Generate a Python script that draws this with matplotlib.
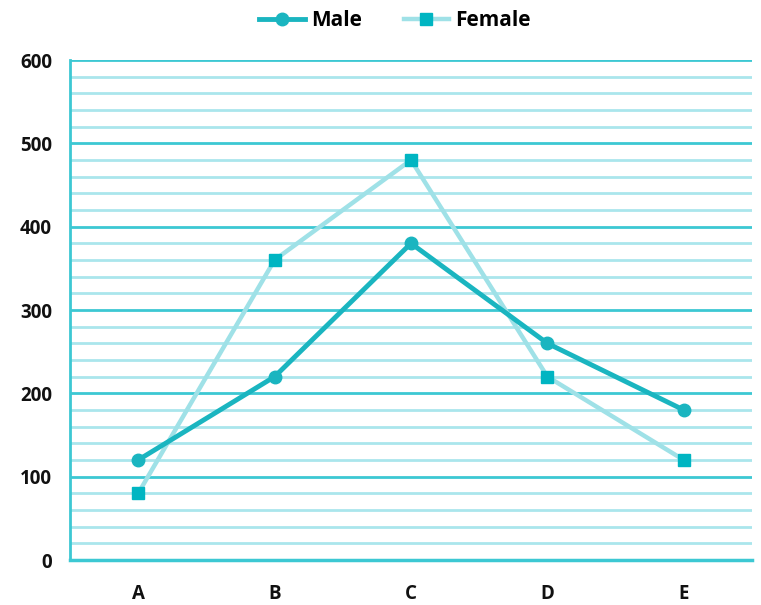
import matplotlib
matplotlib.use("Agg")
import matplotlib.pyplot as plt
from matplotlib.ticker import MultipleLocator

categories = ["A", "B", "C", "D", "E"]
male = [120, 220, 380, 260, 180]
female = [80, 360, 480, 220, 120]

plt.rcParams['font.family'] = ['Open Sans', 'DejaVu Sans']

fig = plt.figure(figsize=(7.61, 6.05), dpi=100)
ax = fig.add_axes([70/761, 45/605, 682/761, 500/605])

major_c = "#3cc8d3"
minor_c = "#aae6ec"
male_c = "#1ab5c0"
female_line_c = "#9fe1e7"
female_mk_c = "#00b5c2"

x = list(range(len(categories)))
ax.set_xlim(-0.5, 4.5)
ax.set_ylim(0, 600)
ax.yaxis.set_major_locator(MultipleLocator(100))
ax.yaxis.set_minor_locator(MultipleLocator(20))
ax.grid(which="major", axis="y", color=major_c, linewidth=2)
ax.grid(which="minor", axis="y", color=minor_c, linewidth=2)
ax.set_axisbelow(True)

for s in ["top", "right"]:
    ax.spines[s].set_visible(False)
ax.spines["left"].set_color(major_c)
ax.spines["bottom"].set_color(major_c)
ax.spines["left"].set_linewidth(2)
ax.spines["bottom"].set_linewidth(2.5)

ax.plot(x, female, color=female_line_c, linewidth=3.2, marker="s", markersize=9,
        markerfacecolor=female_mk_c, markeredgecolor=female_mk_c, label="Female", zorder=3)
ax.plot(x, male, color=male_c, linewidth=3.5, marker="o", markersize=9,
        markerfacecolor=male_c, markeredgecolor=male_c, label="Male", zorder=4)

ax.set_xticks(x)
ax.set_xticklabels(categories)
ax.tick_params(axis="both", which="both", length=0, labelsize=13.5)
ax.tick_params(axis="x", pad=17)
ax.tick_params(axis="y", pad=13)
for lbl in ax.get_xticklabels() + ax.get_yticklabels():
    lbl.set_fontweight("bold")
    lbl.set_color("#111111")

handles, labels = ax.get_legend_handles_labels()
order = [1, 0]
fig.legend([handles[i] for i in order], [labels[i] for i in order],
           loc="center", bbox_to_anchor=(395/761, 1 - 21/605), ncol=2, frameon=False,
           prop={"weight": "bold", "size": 15}, handlelength=2.2, columnspacing=2.0,
           handletextpad=0.3)

fig.savefig("out.png", dpi=100)
